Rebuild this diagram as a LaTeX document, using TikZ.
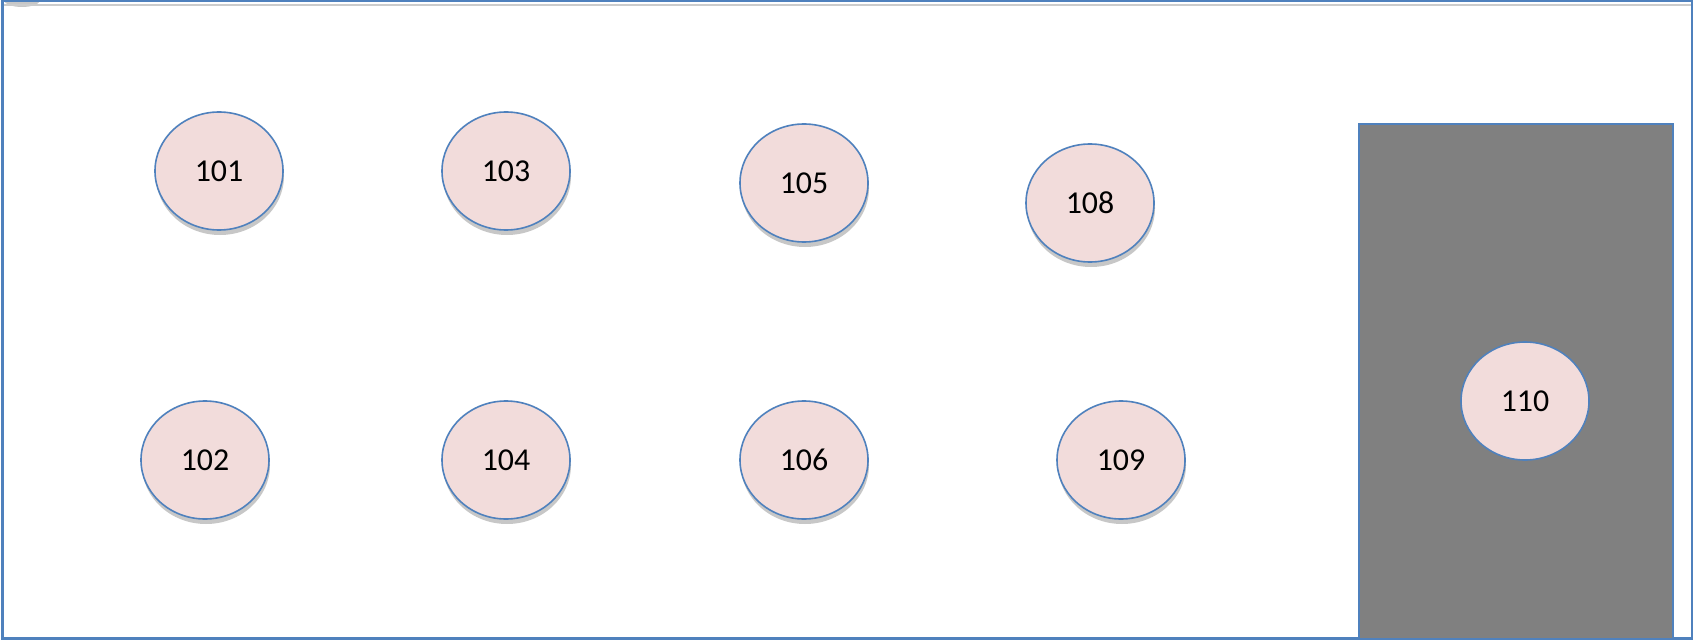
\documentclass[tikz,border=0pt]{standalone}
\usepackage{fontspec}
\setmainfont{Carlito}
\usetikzlibrary{shapes.geometric,shadows}
\definecolor{ofblue}{HTML}{4F81BD}
\definecolor{pinkfill}{HTML}{F2DCDB}
\definecolor{roomgray}{HTML}{808080}
\tikzset{
  x=1bp, y=-1bp,
  seat/.style={ellipse, draw=ofblue, line width=1.6bp, fill=pinkfill,
    minimum width=128bp, minimum height=118bp, inner sep=0pt,
    font=\fontsize{32}{38}\selectfont},
  seatshadow/.style={seat, drop shadow={shadow xshift=1bp, shadow yshift=-5bp, fill=black!22, opacity=1}},
}
\begin{document}
\begin{tikzpicture}
\useasboundingbox (0,0) rectangle (1694,641);
\fill[white] (0,0) rectangle (1694,641);
% top-left shadow blob
\begin{scope}
\clip (3,3) rectangle (200,12);
\fill[black!22] (22,0) ellipse (18bp and 7bp);
\end{scope}
% top double line
\draw[black!20, line width=2bp] (3,5.5) -- (1691,5.5);
% outer frame
\draw[ofblue, line width=2.4bp] (2.5,1.2) rectangle (1692,638.5);
% gray area
\node[draw=ofblue, line width=2.2bp, fill=roomgray, inner sep=0pt, minimum width=314bp, minimum height=515bp, anchor=north west] (room) at (1358,123) {};
% seats
\node[seatshadow] (n101) at (219,171) {101};
\node[seatshadow] (n103) at (506,171) {103};
\node[seatshadow] (n105) at (804,183) {105};
\node[seatshadow] (n108) at (1090,203) {108};
\node[seatshadow] (n102) at (205,460) {102};
\node[seatshadow] (n104) at (506,460) {104};
\node[seatshadow] (n106) at (804,460) {106};
\node[seatshadow] (n109) at (1121,460) {109};
\node[seat] (n110) at (1525,401) {110};
\end{tikzpicture}
\end{document}
